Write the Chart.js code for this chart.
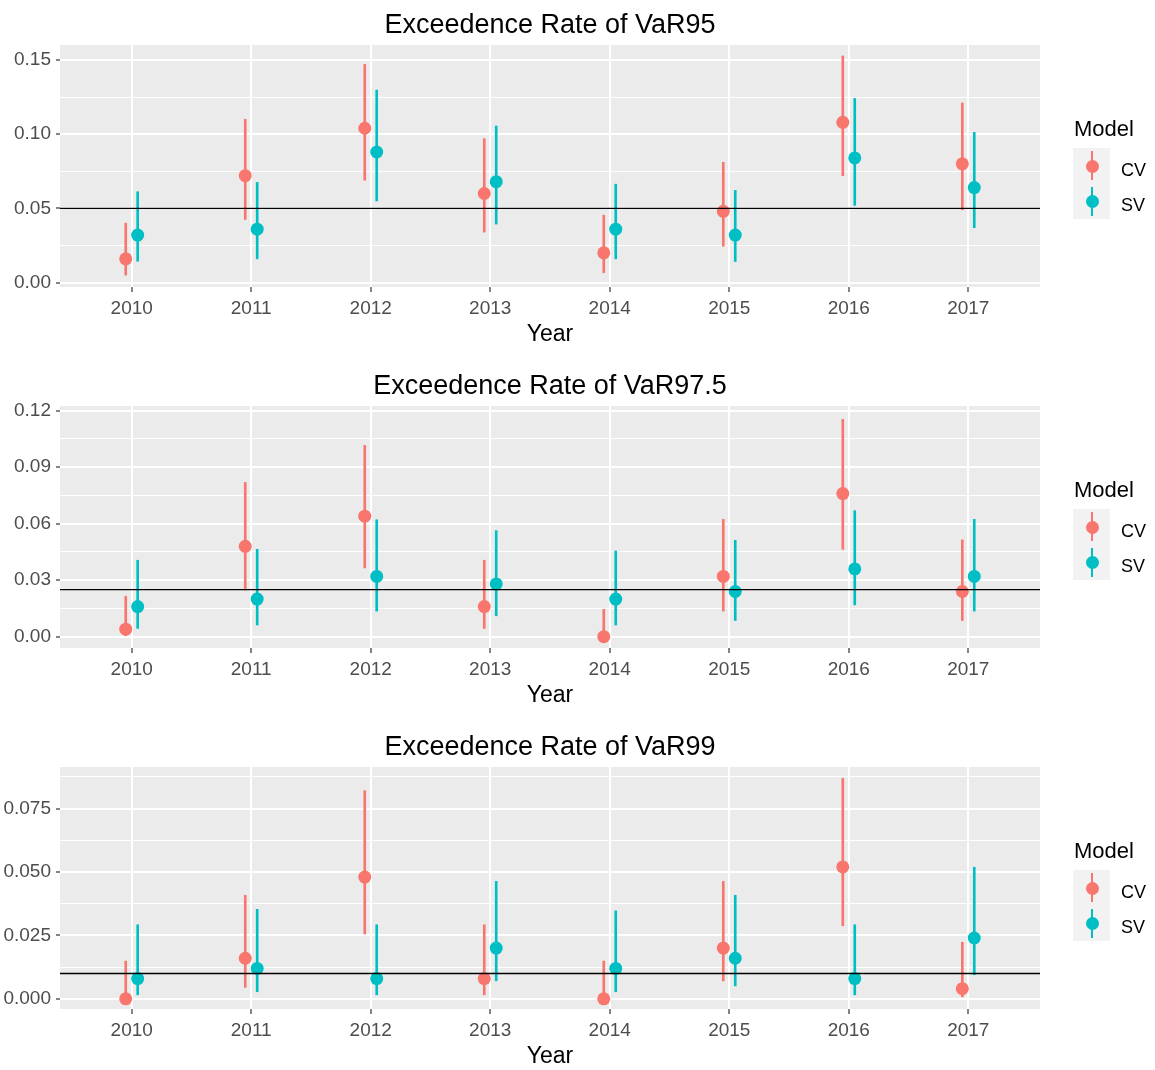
<!DOCTYPE html>
<html>
<head>
<meta charset="utf-8">
<script src="https://cdn.jsdelivr.net/npm/chart.js@4.4.1/dist/chart.umd.min.js"></script>
<style>
  html, body { margin: 0; padding: 0; background: #fff; overflow: hidden; }
  #wrap { position: relative; width: 1155px; height: 1070px; overflow: hidden; font-family: 'Liberation Sans', Arial, sans-serif; }
  .panel { position: absolute; left: 0; width: 1155px; height: 361px; }
  .panel canvas { position: absolute; left: 0; top: 0; }
  .lg-title { position: absolute; left: 1074px; top: 118px; font-size: 22px; line-height: 22px; color: #000; white-space: nowrap; }
  .lg-box { position: absolute; left: 1073px; top: 148px; width: 37px; height: 71px; background: #F2F2F2; }
  .lg-line { position: absolute; width: 2px; height: 29px; }
  .lg-dot { position: absolute; width: 13px; height: 13px; border-radius: 50%; }
  .lg-lab { position: absolute; left: 1121px; font-size: 18px; line-height: 18px; color: #000; }
</style>
</head>
<body>
<div id="wrap"></div>
<script>
// ---- categories ----
const years = ['2010', '2011', '2012', '2013', '2014', '2015', '2016', '2017'];
const models = ['CV', 'SV'];
const titles = ['Exceedence Rate of VaR95', 'Exceedence Rate of VaR97.5', 'Exceedence Rate of VaR99'];
const refLines = [0.05, 0.025, 0.01];

// ---- VaR95 ----
const var95_cv    = [0.016, 0.072, 0.104, 0.060, 0.020, 0.048, 0.108, 0.080];
const var95_cv_lo = [0.005, 0.0425, 0.069, 0.034, 0.0067, 0.0245, 0.072, 0.049];
const var95_cv_hi = [0.040, 0.110, 0.147, 0.097, 0.0454, 0.081, 0.1527, 0.121];
const var95_sv    = [0.032, 0.036, 0.088, 0.068, 0.036, 0.032, 0.084, 0.064];
const var95_sv_lo = [0.0144, 0.016, 0.055, 0.0394, 0.016, 0.0142, 0.052, 0.037];
const var95_sv_hi = [0.0612, 0.0675, 0.1297, 0.1055, 0.0663, 0.0621, 0.1241, 0.1012];

// ---- VaR97.5 ----
const var975_cv    = [0.004, 0.048, 0.064, 0.016, 0.000, 0.032, 0.076, 0.024];
const var975_cv_lo = [0.0005, 0.0247, 0.0365, 0.0044, 0.0, 0.0136, 0.0464, 0.0086];
const var975_cv_hi = [0.0215, 0.0819, 0.1016, 0.0406, 0.0145, 0.0623, 0.1154, 0.0514];
const var975_sv    = [0.016, 0.020, 0.032, 0.028, 0.020, 0.024, 0.036, 0.032];
const var975_sv_lo = [0.0044, 0.0062, 0.0136, 0.0111, 0.0062, 0.0086, 0.0169, 0.0136];
const var975_sv_hi = [0.0406, 0.0464, 0.0621, 0.0563, 0.0455, 0.0512, 0.0669, 0.0623];

// ---- VaR99 ----
const var99_cv    = [0.000, 0.016, 0.048, 0.008, 0.000, 0.020, 0.052, 0.004];
const var99_cv_lo = [0.0, 0.0045, 0.0256, 0.0016, 0.0, 0.0071, 0.0288, 0.0008];
const var99_cv_hi = [0.0149, 0.0408, 0.0821, 0.0292, 0.0149, 0.0463, 0.0869, 0.0223];
const var99_sv    = [0.008, 0.012, 0.008, 0.020, 0.012, 0.016, 0.008, 0.024];
const var99_sv_lo = [0.0016, 0.0028, 0.0016, 0.0071, 0.0028, 0.0051, 0.0016, 0.0095];
const var99_sv_hi = [0.0292, 0.0353, 0.0292, 0.0463, 0.0347, 0.0408, 0.0292, 0.0519];

// ---- y axis ticks ----
const yMajor1 = [0, 0.05, 0.10, 0.15];
const yLabels1 = ['0.00', '0.05', '0.10', '0.15'];
const yMinor1 = [0.025, 0.075, 0.125];
const yMajor2 = [0, 0.03, 0.06, 0.09, 0.12];
const yLabels2 = ['0.00', '0.03', '0.06', '0.09', '0.12'];
const yMinor2 = [0.015, 0.045, 0.075, 0.105];
const yMajor3 = [0, 0.025, 0.05, 0.075];
const yLabels3 = ['0.000', '0.025', '0.050', '0.075'];
const yMinor3 = [0.0125, 0.0375, 0.0625, 0.0875];
const yLimits = [[-0.003, 0.1601], [-0.006, 0.1225], [-0.004, 0.0914]];

const panels = [
  { cv: var95_cv, cvLo: var95_cv_lo, cvHi: var95_cv_hi, sv: var95_sv, svLo: var95_sv_lo, svHi: var95_sv_hi, major: yMajor1, labels: yLabels1, minor: yMinor1 },
  { cv: var975_cv, cvLo: var975_cv_lo, cvHi: var975_cv_hi, sv: var975_sv, svLo: var975_sv_lo, svHi: var975_sv_hi, major: yMajor2, labels: yLabels2, minor: yMinor2 },
  { cv: var99_cv, cvLo: var99_cv_lo, cvHi: var99_cv_hi, sv: var99_sv, svLo: var99_sv_lo, svHi: var99_sv_hi, major: yMajor3, labels: yLabels3, minor: yMinor3 }
];

const COLORS = { CV: '#F8766D', SV: '#00BFC4' };
const DODGE = 0.05;
const PANEL_STEP = 361;

Chart.defaults.font.family = "'Liberation Sans', Arial, sans-serif";

const panelBg = {
  id: 'panelBg',
  beforeDraw(chart) {
    const { ctx, chartArea: a } = chart;
    ctx.save();
    ctx.fillStyle = '#EBEBEB';
    ctx.fillRect(a.left, a.top, a.right - a.left, a.bottom - a.top);
    ctx.restore();
  }
};

const wrap = document.getElementById('wrap');

panels.forEach((p, k) => {
  const div = document.createElement('div');
  div.className = 'panel';
  div.style.top = (k * PANEL_STEP) + 'px';
  const canvas = document.createElement('canvas');
  canvas.width = 1155; canvas.height = 361;
  canvas.style.width = '1155px'; canvas.style.height = '361px';
  div.appendChild(canvas);

  // legend (HTML text)
  const lt = document.createElement('div'); lt.className = 'lg-title'; lt.textContent = 'Model'; div.appendChild(lt);
  const box = document.createElement('div'); box.className = 'lg-box'; div.appendChild(box);
  models.forEach((m, j) => {
    const cy = 166 + j * 35.5;
    const ln = document.createElement('div'); ln.className = 'lg-line';
    ln.style.left = '1091px'; ln.style.top = (cy - 15) + 'px'; ln.style.background = COLORS[m];
    div.appendChild(ln);
    const dot = document.createElement('div'); dot.className = 'lg-dot';
    dot.style.left = '1085.5px'; dot.style.top = (cy - 6.5) + 'px'; dot.style.background = COLORS[m];
    div.appendChild(dot);
    const lab = document.createElement('div'); lab.className = 'lg-lab';
    lab.style.top = (cy - 5.5) + 'px'; lab.textContent = m;
    div.appendChild(lab);
  });
  wrap.appendChild(div);

  const isMajor = v => p.major.some(m => Math.abs(m - v) < 1e-9);
  const pts = (vals, off) => years.map((_, i) => ({ x: i + 1 + off, y: vals[i] }));
  const bars = (lo, hi, off) => years.map((_, i) => ({ x: i + 1 + off, y: [lo[i], hi[i]] }));

  new Chart(canvas, {
    type: 'scatter',
    data: {
      datasets: [
        { type: 'line', label: 'ref', data: [{ x: 0.4, y: refLines[k] }, { x: 8.6, y: refLines[k] }],
          borderColor: '#000000', borderWidth: 1.4, pointRadius: 0, order: -1 },
        { type: 'scatter', label: 'CV', data: pts(p.cv, -DODGE), pointRadius: 6.5, pointBackgroundColor: COLORS.CV,
          pointBorderWidth: 0, borderWidth: 0, order: 0 },
        { type: 'scatter', label: 'SV', data: pts(p.sv, DODGE), pointRadius: 6.5, pointBackgroundColor: COLORS.SV,
          pointBorderWidth: 0, borderWidth: 0, order: 0 },
        { type: 'bar', label: 'CV range', data: bars(p.cvLo, p.cvHi, -DODGE), backgroundColor: COLORS.CV,
          grouped: false, maxBarThickness: 2, barPercentage: 1, categoryPercentage: 1, borderWidth: 0, order: 1 },
        { type: 'bar', label: 'SV range', data: bars(p.svLo, p.svHi, DODGE), backgroundColor: COLORS.SV,
          grouped: false, maxBarThickness: 2, barPercentage: 1, categoryPercentage: 1, borderWidth: 0, order: 1 }
      ]
    },
    options: {
      responsive: false,
      animation: false,
      events: [],
      devicePixelRatio: 1,
      layout: { padding: { left: 0, right: 115, top: 0, bottom: 0 } },
      plugins: {
        legend: { display: false },
        tooltip: { enabled: false },
        title: {
          display: true, text: titles[k], color: '#000000', fullSize: false,
          font: { size: 27, weight: 'normal' }, padding: { top: 9.8, bottom: 2.8 }
        }
      },
      scales: {
        x: {
          type: 'linear', min: 0.4, max: 8.6, offset: false,
          afterBuildTicks: s => { s.ticks = years.map((_, i) => ({ value: i + 1 })); },
          afterFit: s => { s.height = 74; },
          ticks: { autoSkip: false, maxRotation: 0, padding: 5, color: '#4D4D4D', font: { size: 19 },
                   callback: v => years[Math.round(v) - 1] },
          grid: { color: '#FFFFFF', lineWidth: 2, tickColor: '#333333', tickLength: 5, tickWidth: 1.2, offset: false },
          border: { display: false },
          title: { display: true, text: 'Year', color: '#000000', font: { size: 23 }, padding: { top: 0, bottom: 12.2 } }
        },
        y: {
          type: 'linear', min: yLimits[k][0], max: yLimits[k][1],
          afterBuildTicks: s => { s.ticks = p.major.concat(p.minor).sort((a, b) => a - b).map(v => ({ value: v })); },
          afterFit: s => { s.width = 60; },
          ticks: { autoSkip: false, padding: 5, color: '#4D4D4D', font: { size: 19 },
                   callback: v => { const j = p.major.findIndex(m => Math.abs(m - v) < 1e-9); return j >= 0 ? p.labels[j] : ''; } },
          grid: {
            color: '#FFFFFF',
            lineWidth: c => (c.tick && isMajor(c.tick.value)) ? 2 : 1,
            tickColor: c => (c.tick && isMajor(c.tick.value)) ? '#333333' : 'rgba(0,0,0,0)',
            tickLength: 4, tickWidth: 1.2
          },
          border: { display: false }
        }
      }
    },
    plugins: [panelBg]
  });
});
</script>
</body>
</html>
